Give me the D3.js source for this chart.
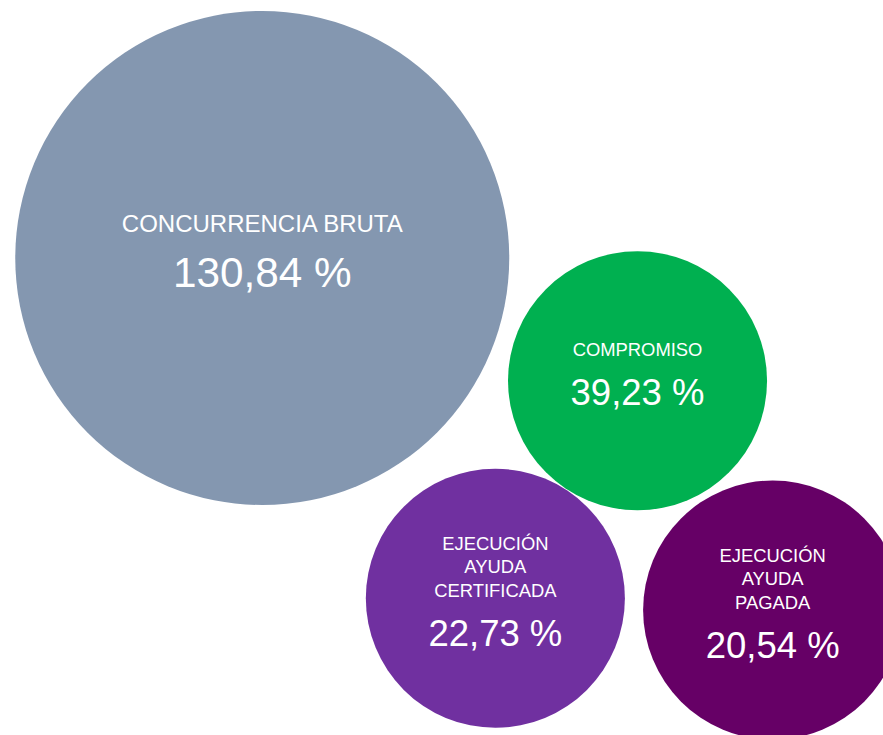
<!DOCTYPE html>
<html>
<head>
<meta charset="utf-8">
<script src="https://cdn.jsdelivr.net/npm/d3@7"></script>
<style>
  body { margin: 0; background: #fff; }
  svg { display: block; }
</style>
</head>
<body>
<svg id="svg1" width="883" height="735"></svg>
<script>
var width = 883;
var height = 735;

// data
var categories = ["CONCURRENCIA BRUTA", "COMPROMISO", "EJECUCIÓN\nAYUDA\nCERTIFICADA", "EJECUCIÓN\nAYUDA\nPAGADA"];
var values = [130.84, 39.23, 22.73, 20.54];
var xValues = [2.97, 7.22, 5.61, 8.75];
var yValues = [6.49, 4.82, 1.86, 1.70];
var bubbleSize = [100, 27.5, 27.5, 27.5];
var colors = ["#8497B0", "#00B050", "#7030A0", "#660066"];

var rows = categories.map(function(c, i) {
  return { label: c, value: values[i], x: xValues[i], y: yValues[i], size: bubbleSize[i], color: colors[i] };
});

var x = d3.scaleLinear().domain([0, 10]).range([0, width]);
var y = d3.scaleLinear().domain([0, 10]).range([height, 0]);
var r = d3.scaleSqrt().domain([0, d3.max(bubbleSize)]).range([0, 247]);

var locale = d3.formatLocale({ decimal: ",", thousands: ".", grouping: [3], currency: ["", " €"] });
var fmt = locale.format(".2f");

var svg = d3.select('svg');

var bubbles = svg.selectAll("g.bubble")
    .data(rows)
    .enter()
    .append("g")
    .attr("class", "bubble")
    .attr("transform", function(d) { return "translate(" + x(d.x) + "," + y(d.y) + ")"; });

bubbles.append("circle")
    .attr("r", function(d) { return r(d.size); })
    .attr("fill", function(d) { return d.color; });

bubbles.each(function(d) {
  var g = d3.select(this);
  var big = r(d.size) > 200;
  var ls = big ? 24 : 18.4;      // label font size
  var vs = big ? 42.3 : 36.5;    // value font size
  var lh = 23.5;
  var lines = d.label.split("\n");
  var gap = vs + 12.5;
  var total = 0.716 * ls + (lines.length - 1) * lh + gap;
  var top = -7 - total / 2 + 0.716 * ls;

  lines.forEach(function(t, i) {
    g.append("text")
      .attr("text-anchor", "middle")
      .attr("y", top + i * lh)
      .attr("fill", "#fff")
      .style("font-family", "'Liberation Sans', Arial, sans-serif")
      .style("font-size", ls + "px")
      .text(t);
  });

  g.append("text")
    .attr("text-anchor", "middle")
    .attr("y", top + (lines.length - 1) * lh + gap)
    .attr("fill", "#fff")
    .style("font-family", "'Liberation Sans', Arial, sans-serif")
    .style("font-size", vs + "px")
    .text(fmt(d.value) + " %");
});
</script>
</body>
</html>
